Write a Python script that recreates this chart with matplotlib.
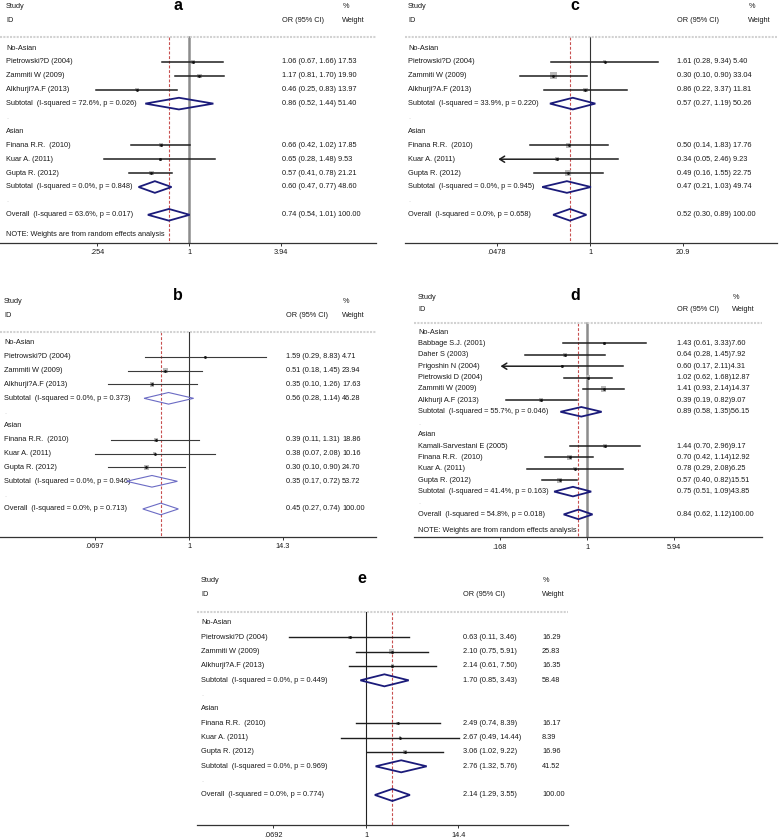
import matplotlib.pyplot as plt
import matplotlib.transforms as mtransforms
import matplotlib.ticker as mticker
import numpy as np

plt.rcParams['font.family'] = ['Liberation Sans', 'DejaVu Sans']

W, H = 779, 839
FS = 5.3
TXT = '#1a1a1a'

groups = ['No-Asian', 'Asian']
note_text = 'NOTE: Weights are from random effects analysis'

# ---- panel a ----
names_a = [["Pietrowski?D (2004)", "Zammiti W (2009)", "Alkhurji?A.F (2013)"],
           ["Finana R.R.  (2010)", "Kuar A. (2011)", "Gupta R. (2012)"]]
or_a = [[1.06, 1.17, 0.46], [0.66, 0.65, 0.57]]
lo_a = [[0.67, 0.81, 0.25], [0.42, 0.28, 0.41]]
hi_a = [[1.66, 1.70, 0.83], [1.02, 1.48, 0.78]]
wt_a = [[17.53, 19.90, 13.97], [17.85, 9.53, 21.21]]
sub_a = [(0.86, 0.52, 1.44, 51.40), (0.60, 0.47, 0.77, 48.60)]
het_a = [(72.6, 0.026), (0.0, 0.848)]
overall_a = (0.74, 0.54, 1.01, 100.00)
het_all_a = (63.6, 0.017)
ticks_a = [0.254, 1, 3.94]
ticklabels_a = ['.254', '1', '3.94']

# ---- panel b ----
names_b = names_a
or_b = [[1.59, 0.51, 0.35], [0.39, 0.38, 0.30]]
lo_b = [[0.29, 0.18, 0.10], [0.11, 0.07, 0.10]]
hi_b = [[8.83, 1.45, 1.26], [1.31, 2.08, 0.90]]
wt_b = [[4.71, 23.94, 17.63], [18.86, 10.16, 24.70]]
sub_b = [(0.56, 0.28, 1.14, 46.28), (0.35, 0.17, 0.72, 53.72)]
het_b = [(0.0, 0.373), (0.0, 0.946)]
overall_b = (0.45, 0.27, 0.74, 100.00)
het_all_b = (0.0, 0.713)
ticks_b = [0.0697, 1, 14.3]
ticklabels_b = ['.0697', '1', '14.3']

# ---- panel c ----
names_c = names_a
or_c = [[1.61, 0.30, 0.86], [0.50, 0.34, 0.49]]
lo_c = [[0.28, 0.10, 0.22], [0.14, 0.05, 0.16]]
hi_c = [[9.34, 0.90, 3.37], [1.83, 2.46, 1.55]]
wt_c = [[5.40, 33.04, 11.81], [17.76, 9.23, 22.75]]
sub_c = [(0.57, 0.27, 1.19, 50.26), (0.47, 0.21, 1.03, 49.74)]
het_c = [(33.9, 0.220), (0.0, 0.945)]
overall_c = (0.52, 0.30, 0.89, 100.00)
het_all_c = (0.0, 0.658)
ticks_c = [0.0478, 1, 20.9]
ticklabels_c = ['.0478', '1', '20.9']
arrows_c = [(1, 1)]

# ---- panel d ----
names_d = [["Babbage S.J. (2001)", "Daher S (2003)", "Prigoshin N (2004)",
            "Pietrowski D (2004)", "Zammiti W (2009)", "Alkhurji A.F (2013)"],
           ["Kamali-Sarvestani E (2005)", "Finana R.R.  (2010)", "Kuar A. (2011)",
            "Gupta R. (2012)"]]
or_d = [[1.43, 0.64, 0.60, 1.02, 1.41, 0.39], [1.44, 0.70, 0.78, 0.57]]
lo_d = [[0.61, 0.28, 0.17, 0.62, 0.93, 0.19], [0.70, 0.42, 0.29, 0.40]]
hi_d = [[3.33, 1.45, 2.11, 1.68, 2.14, 0.82], [2.96, 1.14, 2.08, 0.82]]
wt_d = [[7.60, 7.92, 4.31, 12.87, 14.37, 9.07], [9.17, 12.92, 6.25, 15.51]]
sub_d = [(0.89, 0.58, 1.35, 56.15), (0.75, 0.51, 1.09, 43.85)]
het_d = [(55.7, 0.046), (41.4, 0.163)]
overall_d = (0.84, 0.62, 1.12, 100.00)
het_all_d = (54.8, 0.018)
ticks_d = [0.168, 1, 5.94]
ticklabels_d = ['.168', '1', '5.94']
arrows_d = [(0, 2)]

# ---- panel e ----
names_e = names_a
or_e = [[0.63, 2.10, 2.14], [2.49, 2.67, 3.06]]
lo_e = [[0.11, 0.75, 0.61], [0.74, 0.49, 1.02]]
hi_e = [[3.46, 5.91, 7.50], [8.39, 14.44, 9.22]]
wt_e = [[16.29, 25.83, 16.35], [16.17, 8.39, 16.96]]
sub_e = [(1.70, 0.85, 3.43, 58.48), (2.76, 1.32, 5.76, 41.52)]
het_e = [(0.0, 0.449), (0.0, 0.969)]
overall_e = (2.14, 1.29, 3.55, 100.00)
het_all_e = (0.0, 0.774)
ticks_e = [0.0692, 1, 14.4]
ticklabels_e = ['.0692', '1', '14.4']


def ci_text(est, lo, hi):
    return '%.2f (%.2f, %.2f)' % (est, lo, hi)


def draw_panel(fig, lay, names, ors, los, his, wts, subs, hets, overall, het_all,
               ticks, ticklabels, note=False, arrows=()):
    n_overall = sum(len(g) for g in names) + 3 * len(names)
    axis_row = n_overall + lay['axis_gap']
    top_row = -3.4
    top_px = lay['row0'] + lay['sp'] * top_row
    bot_px = lay['row0'] + lay['sp'] * axis_row
    ax = fig.add_axes([lay['left'] / W, 1 - bot_px / H,
                       (lay['right'] - lay['left']) / W, (bot_px - top_px) / H])
    ax.set_xscale('log')
    ax.set_xlim(np.exp((lay['left'] - lay['p1']) / lay['k']),
                np.exp((lay['right'] - lay['p1']) / lay['k']))
    ax.set_ylim(axis_row, top_row)
    for s in ['top', 'left', 'right']:
        ax.spines[s].set_visible(False)
    ax.spines['bottom'].set_color('#333333')
    ax.spines['bottom'].set_linewidth(0.9)
    ax.set_yticks([])
    ax.set_xticks(ticks)
    ax.set_xticklabels(ticklabels)
    ax.xaxis.set_minor_locator(mticker.NullLocator())
    ax.tick_params(axis='x', length=2.2, width=0.7, pad=2.6, labelsize=FS,
                   colors='#333333', labelcolor=TXT)
    ax.patch.set_alpha(0)

    trans = mtransforms.blended_transform_factory(fig.transFigure, ax.transData)

    def txt(x, y, s, **kw):
        ax.text(x / W, y, s, transform=trans, fontsize=FS, va='center',
                ha='left', color=kw.pop('color', TXT), **kw)

    # header
    txt(lay['name_x'], -3.0, 'Study')
    txt(lay['name_x'], -2.0, 'ID')
    txt(lay['or_x'], -2.0, 'OR (95% CI)')
    txt(lay['wt_x'] + 1, -3.0, '%')
    txt(lay['wt_x'], -2.0, 'Weight')
    fig.text(lay['label_x'] / W, 1 - lay['label_y'] / H, lay['label'], fontsize=11.5,
             fontweight='bold', ha='center', va='baseline', color='black')
    ax.plot(ax.get_xlim(), [-0.8, -0.8], color='#d2d2d2', lw=1.5,
            ls=(0, (1, 0.6)), clip_on=False)

    # reference lines
    ax.plot([1, 1], [-0.8, axis_row], color=lay['null_color'], lw=lay['null_lw'], zorder=1)
    ax.plot([overall[0], overall[0]], [-0.8, axis_row], color='#c85050', lw=0.8,
            ls=(0, (2.6, 1.6)), zorder=1)

    def row_values(y, est, lo, hi, w):
        if lay['joined']:
            txt(lay['or_x'], y, ci_text(est, lo, hi) + lay['joiner'] + '%.2f' % w)
        else:
            txt(lay['or_x'], y, ci_text(est, lo, hi))
            txt(lay['wt_x'], y, '%.2f' % w)

    def diamond(y, est, lo, hi):
        h = 0.42
        ax.fill([lo, est, hi, est, lo], [y, y - h, y, y + h, y], facecolor='none',
                edgecolor=lay['dia_color'], lw=lay['dia_lw'], zorder=5)

    y = 0
    for g, group in enumerate(groups):
        txt(lay['name_x'], y, group)
        y += 1
        for i, name in enumerate(names[g]):
            est, lo, hi, w = ors[g][i], los[g][i], his[g][i], wts[g][i]
            txt(lay['name_x'], y, name)
            side = lay['box'] * np.sqrt(w) * 0.72
            ax.scatter([est], [y], marker='s', s=side ** 2, color='#b9b9b9',
                       edgecolors='none', zorder=2)
            if (g, i) in arrows:
                ax.plot([est, hi], [y, y], color=lay['ci_color'], lw=lay['ci_lw'], zorder=3)
                ax.annotate('', xy=(lo, y), xytext=(est, y),
                            arrowprops=dict(arrowstyle='->,head_length=0.35,head_width=0.22',
                                            color=lay['ci_color'], lw=lay['ci_lw'],
                                            shrinkA=0, shrinkB=0), zorder=3)
            else:
                ax.plot([lo, hi], [y, y], color=lay['ci_color'], lw=lay['ci_lw'], zorder=3)
            ax.plot([est], [y], 'o', ms=2.0, color='#111111', mec='none', zorder=4)
            row_values(y, est, lo, hi, w)
            y += 1
        est, lo, hi, w = subs[g]
        txt(lay['name_x'], y, 'Subtotal  (I-squared = %.1f%%, p = %.3f)' % hets[g])
        diamond(y, est, lo, hi)
        row_values(y, est, lo, hi, w)
        y += 1
        txt(lay['name_x'], y, '.', color='#c8c8c8')
        y += 1
    est, lo, hi, w = overall
    txt(lay['name_x'], y, 'Overall  (I-squared = %.1f%%, p = %.3f)' % het_all)
    diamond(y, est, lo, hi)
    row_values(y, est, lo, hi, w)
    if note:
        txt(lay['name_x'], y + 1.4, note_text)
    return ax


dark = dict(ci_color='#1e1e1e', dia_color='#1b1b7a', dia_lw=1.3)
lay_a = dict(left=0, right=376, p1=189, k=66.8, row0=48, sp=13.9, axis_gap=2,
             name_x=6, or_x=282, wt_x=342, joined=True, joiner=' ', label='a',
             label_x=178, label_y=10.5,
             box=0.95, null_color='#8c8c8c', null_lw=1.8, ci_lw=1.1, **dark)
lay_c = dict(left=405, right=777, p1=590, k=30.6, row0=48, sp=13.9, axis_gap=2,
             name_x=408, or_x=677, wt_x=748, joined=True, joiner=' ', label='c',
             label_x=575, label_y=10.5,
             box=1.25, null_color='#333333', null_lw=0.8, ci_lw=1.1, **dark)
lay_b = dict(left=0, right=376, p1=189, k=35.3, row0=343, sp=13.83, axis_gap=2,
             name_x=4, or_x=286, wt_x=342, joined=False, joiner='', label='b',
             label_x=178, label_y=300.5,
             box=1.0, null_color='#333333', null_lw=0.8, ci_lw=0.8,
             ci_color='#3a3a3a', dia_color='#6b6bc4', dia_lw=0.8)
lay_d = dict(left=414, right=762, p1=587, k=48.8, row0=332, sp=11.4, axis_gap=2,
             name_x=418, or_x=677, wt_x=732, joined=True, joiner='', label='d',
             label_x=575, label_y=300.5,
             box=1.35, null_color='#8c8c8c', null_lw=1.8, ci_lw=1.1, **dark)
lay_e = dict(left=197, right=568, p1=366, k=34.66, row0=623, sp=14.33, axis_gap=2.1,
             name_x=201, or_x=463, wt_x=542, joined=False, joiner='', label='e',
             label_x=362, label_y=583,
             box=0.9, null_color='#222222', null_lw=0.8, ci_lw=1.0, **dark)

fig = plt.figure(figsize=(W / 100, H / 100), dpi=100)
draw_panel(fig, lay_a, names_a, or_a, lo_a, hi_a, wt_a, sub_a, het_a, overall_a, het_all_a,
           ticks_a, ticklabels_a, note=True)
draw_panel(fig, lay_c, names_c, or_c, lo_c, hi_c, wt_c, sub_c, het_c, overall_c, het_all_c,
           ticks_c, ticklabels_c, arrows=arrows_c)
draw_panel(fig, lay_b, names_b, or_b, lo_b, hi_b, wt_b, sub_b, het_b, overall_b, het_all_b,
           ticks_b, ticklabels_b)
draw_panel(fig, lay_d, names_d, or_d, lo_d, hi_d, wt_d, sub_d, het_d, overall_d, het_all_d,
           ticks_d, ticklabels_d, note=True, arrows=arrows_d)
draw_panel(fig, lay_e, names_e, or_e, lo_e, hi_e, wt_e, sub_e, het_e, overall_e, het_all_e,
           ticks_e, ticklabels_e)
fig.savefig('out.png', dpi=100)
